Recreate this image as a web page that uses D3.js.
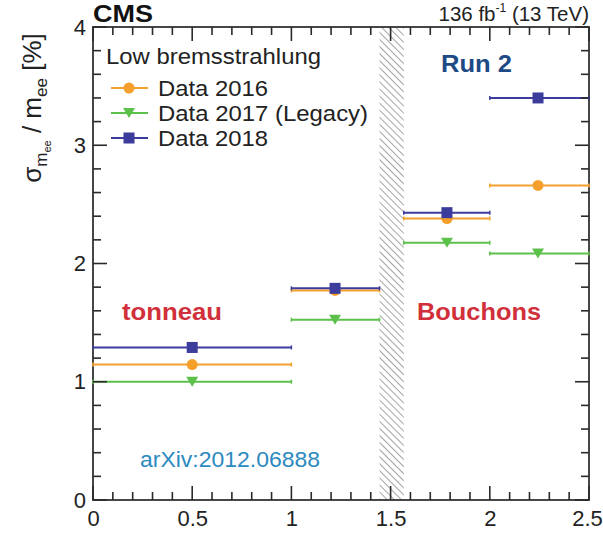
<!DOCTYPE html>
<html><head><meta charset="utf-8">
<script src="https://cdn.jsdelivr.net/npm/d3@7"></script>
<style>body{margin:0;background:#fff}svg{display:block;font-family:"Liberation Sans",Arial,sans-serif}line.tk{stroke:#2a2a2a;stroke-width:1.6px}</style>
</head><body><svg id="c" width="603" height="535"></svg>
<script>
const binLo = [0, 1, 1.5664, 2];
const binHi = [1, 1.4442, 2, 2.5];
const binCenter = [0.5, 1.22, 1.784, 2.243];
const data2016 = [1.145, 1.772, 2.38, 2.66];
const data2017 = [1.0, 1.525, 2.175, 2.085];
const data2018 = [1.29, 1.79, 2.43, 3.40];
const seriesNames = ["Data 2016", "Data 2017 (Legacy)", "Data 2018"];
const gapRange = [1.4442, 1.5664];
const xTicks = [0, 0.5, 1, 1.5, 2, 2.5];
const xTickLabels = ["0", "0.5", "1", "1.5", "2", "2.5"];
const yTicks = [0, 1, 2, 3, 4];
const xMinorTicks = [0.1,0.2,0.3,0.4,0.6,0.7,0.8,0.9,1.1,1.2,1.3,1.4,1.6,1.7,1.8,1.9,2.1,2.2,2.3,2.4];
const yMinorTicks = [0.2,0.4,0.6,0.8,1.2,1.4,1.6,1.8,2.2,2.4,2.6,2.8,3.2,3.4,3.6,3.8];

const svg = d3.select("#c");
const L = 93, R = 589, T = 27, B = 500;
const x = d3.scaleLinear().domain([0, 2.5]).range([L, R]);
const y = d3.scaleLinear().domain([0, 4]).range([B, T]);

const colors = ["#f5a02d", "#5cc14a", "#3c3c9c"];
const shapes = ["circle", "tri", "square"];
const series = [data2016, data2017, data2018];
const axCol = "#333";

// hatch pattern
const defs = svg.append("defs");
const pat = defs.append("pattern").attr("id", "hatch").attr("patternUnits", "userSpaceOnUse")
  .attr("width", 5).attr("height", 5).attr("patternTransform", "rotate(-45)");
pat.append("rect").attr("x", 0).attr("y", 0).attr("width", 0.9).attr("height", 5).attr("fill", "#9a9a9a");
svg.append("rect").attr("x", x(gapRange[0])).attr("y", T)
  .attr("width", x(gapRange[1]) - x(gapRange[0])).attr("height", B - T)
  .attr("fill", "url(#hatch)");

// tick labels via axes
const gx = svg.append("g").attr("transform", `translate(0,${B})`)
  .call(d3.axisBottom(x).tickValues(xTicks).tickFormat((d, i) => xTickLabels[i]).tickSize(0).tickPadding(10));
const gy = svg.append("g").attr("transform", `translate(${L},0)`)
  .call(d3.axisLeft(y).tickValues(yTicks).tickFormat(d3.format("d")).tickSize(0).tickPadding(7));
[gx, gy].forEach(g => {
  g.select(".domain").remove();
  g.selectAll("text").attr("font-size", 22).attr("fill", "#222").attr("font-family", "Liberation Sans, Arial, sans-serif");
});
gx.selectAll("text").filter(d => d === 2.5).attr("dx", -2);

// frame
svg.append("rect").attr("x", L).attr("y", T).attr("width", R - L).attr("height", B - T)
  .attr("fill", "none").attr("stroke", axCol).attr("stroke-width", 1.8);

function marker(g, shape, cx, cy, col) {
  if (shape === "circle") g.append("circle").attr("cx", cx).attr("cy", cy).attr("r", 5.5).attr("fill", col);
  else if (shape === "square") g.append("rect").attr("x", cx - 5.5).attr("y", cy - 5.5).attr("width", 11).attr("height", 11).attr("fill", col);
  else g.append("path").attr("d", `M${cx - 6},${cy - 5}L${cx + 6},${cy - 5}L${cx},${cy + 5}Z`).attr("fill", col);
}

// data
const dg = svg.append("g");
series.forEach((s, k) => {
  s.forEach((v, i) => {
    dg.append("line").attr("x1", x(binLo[i])).attr("x2", x(binHi[i])).attr("y1", y(v)).attr("y2", y(v))
      .attr("stroke", colors[k]).attr("stroke-width", 2);
    dg.append("line").attr("x1", x(binLo[i])).attr("x2", x(binLo[i])).attr("y1", y(v) - 2).attr("y2", y(v) + 2)
      .attr("stroke", colors[k]).attr("stroke-width", 1.5);
    dg.append("line").attr("x1", x(binHi[i])).attr("x2", x(binHi[i])).attr("y1", y(v) - 2).attr("y2", y(v) + 2)
      .attr("stroke", colors[k]).attr("stroke-width", 1.5);
  });
});
series.forEach((s, k) => {
  s.forEach((v, i) => marker(dg, shapes[k], x(binCenter[i]), y(v), colors[k]));
});

// legend
const lg = svg.append("g").attr("font-size", 22).attr("fill", "#222");
lg.append("text").attr("x", 106).attr("y", 64).attr("textLength", 215).attr("lengthAdjust", "spacingAndGlyphs").text("Low bremsstrahlung");
const legW = [110, 210, 110];
seriesNames.forEach((n, k) => {
  const yy = 88 + k * 25;
  lg.append("line").attr("x1", 111).attr("x2", 148).attr("y1", yy).attr("y2", yy).attr("stroke", colors[k]).attr("stroke-width", 2);
  marker(lg, shapes[k], 129, yy, colors[k]);
  lg.append("text").attr("x", 158).attr("y", yy + 7.5).attr("textLength", legW[k]).attr("lengthAdjust", "spacingAndGlyphs").text(n);
});

// labels
svg.append("text").attr("x", 93).attr("y", 22).attr("font-size", 23.5).attr("font-weight", "bold").attr("fill", "#111")
  .attr("textLength", 60).attr("lengthAdjust", "spacingAndGlyphs").text("CMS");
const lum = svg.append("text").attr("x", 589).attr("y", 21).attr("text-anchor", "end").attr("font-size", 20.5).attr("fill", "#222");
lum.append("tspan").text("136 fb");
lum.append("tspan").attr("font-size", 12).attr("dy", -9).text("-1");
lum.append("tspan").attr("dy", 9).text(" (13 TeV)");

svg.append("text").attr("x", 122).attr("y", 320).attr("font-size", 24).attr("font-weight", "bold").attr("fill", "#d1303a")
  .attr("textLength", 100).attr("lengthAdjust", "spacingAndGlyphs").text("tonneau");
svg.append("text").attr("x", 417).attr("y", 320).attr("font-size", 24).attr("font-weight", "bold").attr("fill", "#d1303a")
  .attr("textLength", 124).attr("lengthAdjust", "spacingAndGlyphs").text("Bouchons");
svg.append("text").attr("x", 441).attr("y", 72).attr("font-size", 24).attr("font-weight", "bold").attr("fill", "#1e4a86")
  .attr("textLength", 71).attr("lengthAdjust", "spacingAndGlyphs").text("Run 2");
svg.append("text").attr("x", 140).attr("y", 467).attr("font-size", 22).attr("fill", "#2b8ac0")
  .attr("textLength", 180).attr("lengthAdjust", "spacingAndGlyphs").text("arXiv:2012.06888");

// y label
const yl = svg.append("text").attr("transform", "translate(41,108) rotate(-90)").attr("text-anchor", "middle")
  .attr("font-size", 26).attr("fill", "#222");
yl.append("tspan").text("σ");
yl.append("tspan").attr("font-size", 17).attr("dy", 6).text("m");
yl.append("tspan").attr("font-size", 11).attr("dy", 4).text("ee");
yl.append("tspan").attr("dy", -10).text(" / m");
yl.append("tspan").attr("font-size", 17).attr("dy", 6).text("ee");
yl.append("tspan").attr("dy", -6).text(" [%]");

// inward ticks on all four sides, drawn last via data joins
const minL = 8, majL = 14;
const tickSpecs = [];
xTicks.forEach(v => tickSpecs.push({x1: x(v), x2: x(v), y1: B, y2: B - majL}, {x1: x(v), x2: x(v), y1: T, y2: T + majL}));
xMinorTicks.forEach(v => tickSpecs.push({x1: x(v), x2: x(v), y1: B, y2: B - minL}, {x1: x(v), x2: x(v), y1: T, y2: T + minL}));
yTicks.forEach(v => tickSpecs.push({x1: L, x2: L + majL, y1: y(v), y2: y(v)}, {x1: R, x2: R - majL, y1: y(v), y2: y(v)}));
yMinorTicks.forEach(v => tickSpecs.push({x1: L, x2: L + minL, y1: y(v), y2: y(v)}, {x1: R, x2: R - minL, y1: y(v), y2: y(v)}));
svg.append("g").selectAll("line").data(tickSpecs).join("line").attr("class", "tk")
  .attr("x1", d => d.x1).attr("x2", d => d.x2).attr("y1", d => d.y1).attr("y2", d => d.y2)
  .style("stroke", "#2a2a2a").style("stroke-width", "1.6px");
</script></body></html>
